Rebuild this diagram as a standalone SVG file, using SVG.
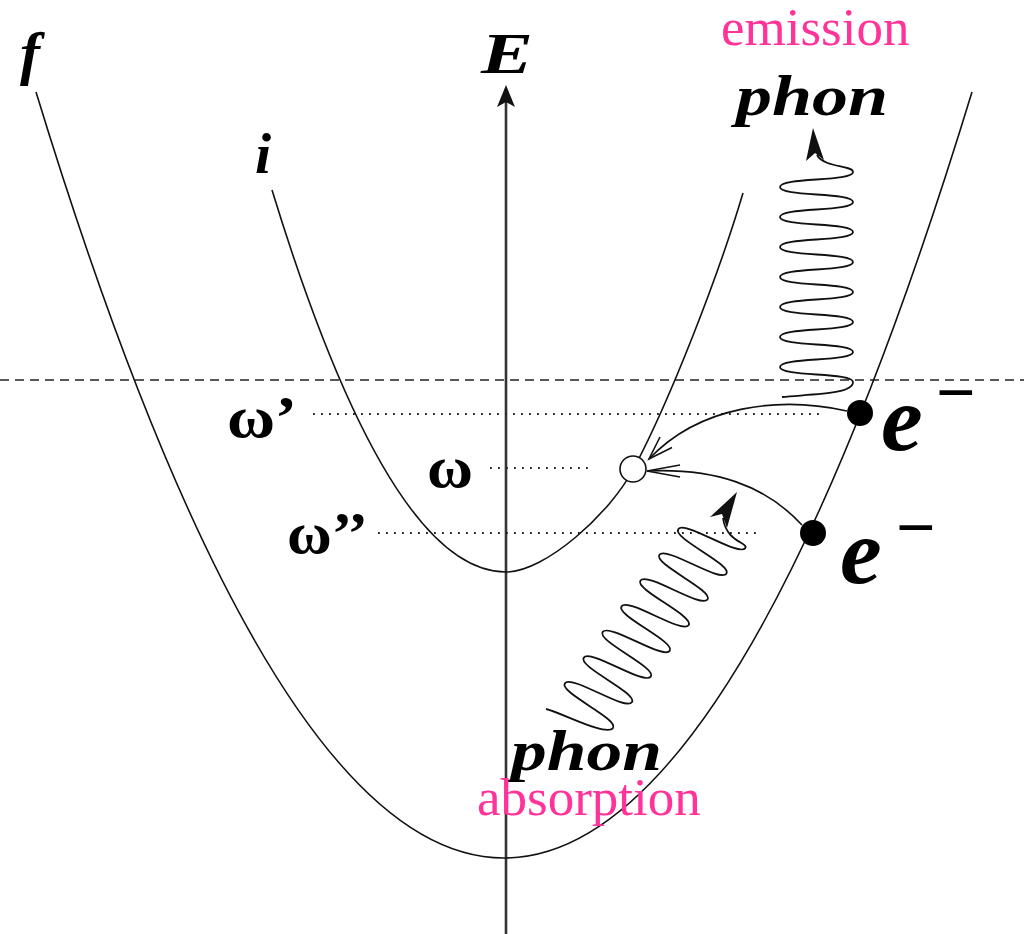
<svg xmlns="http://www.w3.org/2000/svg" width="1024" height="934" viewBox="0 0 1024 934">
<style>
.curve{fill:none;stroke:#111;stroke-width:1.6}
.wave{fill:none;stroke:#111;stroke-width:1.8}
.dot{fill:none;stroke:#222;stroke-width:2;stroke-dasharray:1.8 6.2}
.lab{font-family:"Liberation Serif",serif;font-weight:bold;font-style:italic;fill:#000}
.omg{font-family:"Liberation Serif",serif;font-weight:bold;fill:#000}
.pink{font-family:"Liberation Serif",serif;fill:#ff3399;font-size:53px}
</style>
<rect width="1024" height="934" fill="#fff"/>
<g id="axis">
<line x1="506" y1="100" x2="506" y2="934" stroke="#333" stroke-width="2.6"/>
<polygon points="506,85 497,107 506,102 515,107" fill="#111"/>
</g>
<g id="dashed">
<line x1="0" y1="380" x2="1024" y2="380" stroke="#222" stroke-width="1.6" stroke-dasharray="9 6"/>
</g>
<g id="levels">
<line class="dot" x1="313" y1="414" x2="820" y2="414"/>
<line class="dot" x1="490" y1="468" x2="594" y2="468"/>
<line class="dot" x1="378" y1="533" x2="762" y2="533"/>
</g>
<g id="band-f">
<path class="curve" d="M36,92 Q504,1624 972,92"/>
</g>
<g id="band-i">
<path class="curve" d="M272,190 Q389,572 506,572 C545,572 610,514 634,468 C670,400 718,277 743,193"/>
</g>
<g id="connectors">
<path class="curve" d="M847,411 C780,396 700,405 649,459"/>
<polyline class="curve" points="672,447.5 649,459 660,437"/>
<path class="curve" d="M802,525 C765,485 715,468 647,471"/>
<polyline class="curve" points="680,465 647,471 680,477"/>
</g>
<g id="phonon-emission">
<path class="wave" d="M782,397 C815,394 853,394 853,382 C853,372 780,377 780,367 C780,357 853,362 853,352 C853,342 780,347 780,337 C780,327 853,332 853,322 C853,312 780,317 780,307 C780,297 853,302 853,292 C853,282 780,287 780,277 C780,267 853,272 853,262 C853,252 780,257 780,247 C780,237 853,242 853,232 C853,222 780,227 780,217 C780,207 853,212 853,202 C853,192 780,197 780,187 C780,177 853,182 853,172 C853,165 824,168 817,155"/>
<polygon points="813,128 806,161 815,153 824,160" fill="#111"/>
</g>
<g id="phonon-absorption">
<path class="wave" d="M546,709 C560,712 606.5,737 613,728 C619.5,719 558.4,692.3 564.9,683.3 C571.4,674.3 625.4,711.3 631.9,702.3 C638.4,693.3 577.3,666.6 583.8,657.6 C590.3,648.6 644.3,685.6 650.8,676.6 C657.3,667.6 596.2,640.9 602.7,631.9 C609.2,622.9 663.2,659.9 669.7,650.9 C676.2,641.9 615.1,615.2 621.6,606.2 C628.1,597.2 682.1,634.2 688.6,625.2 C695.1,616.2 634,589.5 640.5,580.5 C647,571.5 701,608.5 707.5,599.5 C714,590.5 652.9,563.8 659.4,554.8 C665.9,545.8 719.9,582.8 726.4,573.8 C732.9,564.8 671.8,538.1 678.3,529.1 C684.8,520.1 738.8,557.1 745.3,548.1 C749,543 726,542 723,518"/>
<polygon points="737,492 710,517 722,514 727,528" fill="#111"/>
</g>
<g id="states">
<circle cx="860" cy="413" r="13" fill="#000"/>
<circle cx="813" cy="533" r="13" fill="#000"/>
<circle cx="633" cy="469" r="13" fill="#fff" stroke="#111" stroke-width="1.6"/>
</g>
<g id="labels">
<text class="lab" x="20" y="73" font-size="60">f</text>
<text class="lab" x="255" y="173" font-size="58">i</text>
<text class="lab" x="481" y="73" font-size="58" textLength="52" lengthAdjust="spacingAndGlyphs">E</text>
<text class="lab" x="736" y="115" font-size="56" textLength="152" lengthAdjust="spacingAndGlyphs">phon</text>
<text class="lab" x="511" y="770" font-size="56" textLength="151" lengthAdjust="spacingAndGlyphs">phon</text>
<text class="omg" x="227" y="437" font-size="60" textLength="70" lengthAdjust="spacingAndGlyphs">ω’</text>
<text class="omg" x="427" y="487" font-size="60" textLength="46" lengthAdjust="spacingAndGlyphs">ω</text>
<text class="omg" x="287" y="553" font-size="60" textLength="81" lengthAdjust="spacingAndGlyphs">ω’’</text>
<text class="lab" x="881" y="450" font-size="94">e<tspan x="936" y="416" font-size="70" font-style="normal">−</tspan></text>
<text class="lab" x="840" y="583" font-size="94">e<tspan x="896" y="551" font-size="70" font-style="normal">−</tspan></text>
<text class="pink" x="721" y="45">emission</text>
<text class="pink" x="477" y="815">absorption</text>
</g>
</svg>
